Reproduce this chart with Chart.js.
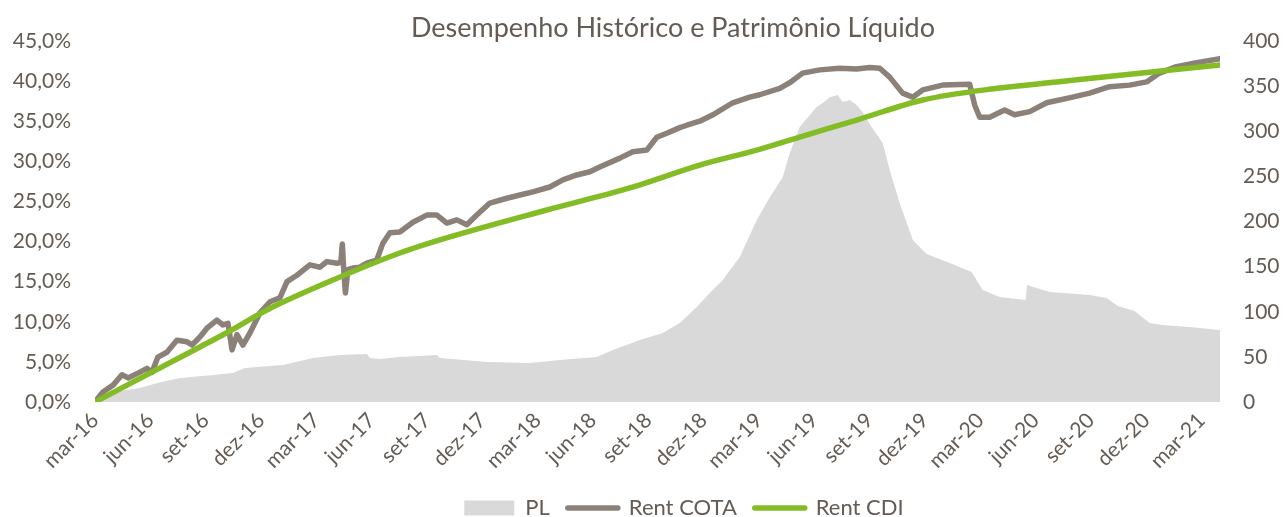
<!DOCTYPE html>
<html>
<head>
<meta charset="utf-8">
<script src="https://cdn.jsdelivr.net/npm/chart.js@4.4.1/dist/chart.umd.min.js"></script>
<style>
  body { margin: 0; background: #fff; }
</style>
</head>
<body>
<canvas id="chart" width="1284" height="517"></canvas>
<script>
// months counted from mar-16 (0) to apr-21 (61)
const tickLabels = ['mar-16', 'jun-16', 'set-16', 'dez-16', 'mar-17', 'jun-17', 'set-17', 'dez-17',
  'mar-18', 'jun-18', 'set-18', 'dez-18', 'mar-19', 'jun-19', 'set-19', 'dez-19',
  'mar-20', 'jun-20', 'set-20', 'dez-20', 'mar-21'];

// Rent COTA (%)
const cotaMonths = [0, 0.43, 0.98, 1.46, 1.79, 2.33, 2.82, 3.09, 3.41, 3.90, 4.44, 4.99, 5.26, 5.69,
  6.07, 6.61, 6.94, 7.21, 7.43, 7.70, 8.02, 8.40, 8.94, 9.49, 10.03, 10.41, 10.95, 11.65, 12.20,
  12.57, 13.12, 13.33, 13.41, 13.50, 13.58, 13.71, 13.98, 14.36, 14.74, 15.28, 15.61, 15.99, 16.53,
  17.24, 17.99, 18.54, 19.08, 19.62, 20.16, 20.70, 21.41, 22.33, 23.04, 23.74, 24.66, 25.37, 26.12,
  26.83, 27.37, 28.46, 29.16, 29.92, 30.46, 31.00, 31.71, 32.09, 32.79, 33.50, 34.58, 35.50, 36.04,
  37.13, 37.67, 38.37, 39.30, 40.38, 41.30, 42.01, 42.55, 43.09, 43.79, 44.34, 44.88, 45.96, 47.43,
  47.70, 47.97, 48.51, 49.32, 49.86, 50.68, 51.60, 53.01, 53.93, 55.01, 56.10, 57.02, 57.72, 58.64,
  59.73, 61.00];
const cotaValues = [0, 1.25, 2.1, 3.4, 3.0, 3.6, 4.2, 3.7, 5.6, 6.2, 7.7, 7.5, 7.1, 8.1,
  9.2, 10.2, 9.6, 9.8, 6.5, 8.4, 7.1, 8.6, 11.1, 12.5, 13.0, 15.0, 15.8, 17.1, 16.8,
  17.5, 17.3, 17.4, 19.7, 16.0, 13.6, 16.5, 16.7, 16.8, 17.3, 17.7, 19.8, 21.1, 21.2,
  22.4, 23.3, 23.3, 22.3, 22.7, 22.1, 23.3, 24.8, 25.4, 25.8, 26.2, 26.8, 27.7, 28.3,
  28.7, 29.3, 30.4, 31.2, 31.4, 33.0, 33.5, 34.2, 34.5, 35.0, 35.8, 37.3, 38.0, 38.3,
  39.1, 39.8, 41.0, 41.4, 41.6, 41.5, 41.7, 41.6, 40.5, 38.5, 38.0, 38.9, 39.5, 39.6,
  37.0, 35.5, 35.5, 36.4, 35.8, 36.2, 37.3, 38.0, 38.5, 39.3, 39.5, 39.9, 41.0, 41.8,
  42.3, 42.8];

// Rent CDI (%)
const cdiMonths = [0, 5.69, 7.32, 9.32, 12.90, 16.53, 19.24, 24.50, 29.00, 32.79, 35.88, 38.21,
  41.30, 44.88, 49.05, 52.14, 55.72, 61.00];
const cdiValues = [0, 6.86, 8.85, 11.47, 15.2, 18.57, 20.57, 23.93, 26.68, 29.54, 31.41, 33.03,
  35.15, 37.65, 39.14, 39.89, 40.76, 42.0];

// PL (right axis)
const plMonths = [0, 0.98, 2.44, 3.52, 4.61, 6.40, 7.48, 8.13, 10.19, 11.82, 13.28, 14.74, 14.91,
  15.45, 16.53, 18.54, 18.70, 21.25, 23.58, 25.20, 27.21, 28.08, 29.54, 30.79, 31.71, 32.63, 33.33,
  34.04, 34.96, 35.88, 36.59, 37.29, 37.67, 38.21, 39.13, 39.46, 39.84, 40.27, 40.54, 40.92, 41.30,
  41.63, 42.11, 42.71, 43.09, 43.63, 44.34, 45.09, 46.34, 47.53, 48.13, 49.05, 50.46, 50.54, 51.76,
  53.93, 54.85, 55.45, 56.37, 57.18, 57.89, 59.35, 61.00];
const plValues = [4.4, 11, 15.5, 22, 26.6, 30, 32, 37.7, 41, 48.8, 52, 53.2, 48.8,
  47.6, 49.9, 52, 48.8, 44.3, 43.2, 46.5, 49.9, 57.6, 68.7, 76.5, 87.5, 105.3, 120.8,
  135.2, 160.7, 201.7, 227, 249, 275.9, 304.7, 326.9, 331.3, 337.8, 340.2, 332.4, 334.6, 329,
  321, 304.7, 287, 257, 220.5, 179.5, 164, 154, 144, 124.1, 116.3, 113, 129.6, 121.9,
  118.6, 115.2, 106.4, 100.8, 87.5, 85.3, 83.1, 79.8];

const textColor = '#645b54';
const plColor = '#d9d9d9';
const cotaColor = '#8b8178';
const cdiColor = '#84bc26';

function points(xs, ys) {
  return xs.map((x, i) => ({ x: x, y: ys[i] }));
}

// title and legend sit a bit right of the canvas centre in the original
const shiftBlocks = {
  id: 'shiftBlocks',
  afterLayout(chart) {
    chart.titleBlock.left += 31;
    chart.titleBlock.right += 31;
    chart.legend.left += 42;
    chart.legend.right += 42;
  }
};

Chart.defaults.font.family = 'Lato, sans-serif';
Chart.defaults.color = textColor;

const chart = new Chart(document.getElementById('chart'), {
  type: 'line',
  data: {
    datasets: [
      {
        label: 'PL',
        data: points(plMonths, plValues),
        yAxisID: 'y1',
        fill: 'origin',
        backgroundColor: plColor,
        borderWidth: 0,
        pointRadius: 0,
        order: 3
      },
      {
        label: 'Rent COTA',
        data: points(cotaMonths, cotaValues),
        yAxisID: 'y',
        borderColor: cotaColor,
        borderWidth: 5.5,
        borderJoinStyle: 'round',
        borderCapStyle: 'round',
        pointRadius: 0,
        fill: false,
        order: 2
      },
      {
        label: 'Rent CDI',
        data: points(cdiMonths, cdiValues),
        yAxisID: 'y',
        borderColor: cdiColor,
        borderWidth: 5.5,
        borderCapStyle: 'round',
        cubicInterpolationMode: 'monotone',
        pointRadius: 0,
        fill: false,
        order: 1
      }
    ]
  },
  plugins: [shiftBlocks],
  options: {
    responsive: false,
    animation: false,
    layout: { padding: { top: 0, left: 0, right: 0, bottom: -12 } },
    plugins: {
      title: {
        display: true,
        text: 'Desempenho Histórico e Patrimônio Líquido',
        color: textColor,
        font: { size: 27, weight: 'normal' },
        padding: { top: 12, bottom: -3.4 }
      },
      legend: {
        position: 'bottom',
        labels: {
          usePointStyle: true,
          pointStyleWidth: 50,
          boxHeight: 15,
          padding: 18,
          color: textColor,
          font: { size: 22 },
          sort: (a, b) => a.datasetIndex - b.datasetIndex,
          generateLabels(chart) {
            const items = Chart.defaults.plugins.legend.labels.generateLabels(chart);
            items.forEach(it => {
              const ds = chart.data.datasets[it.datasetIndex];
              if (ds.fill === 'origin') {
                it.pointStyle = 'rect';
                it.fillStyle = plColor;
                it.strokeStyle = plColor;
                it.lineWidth = 0;
              } else {
                it.pointStyle = 'line';
                it.strokeStyle = ds.borderColor;
                it.lineWidth = 5.5;
                it.lineCap = 'round';
              }
            });
            return items;
          }
        }
      },
      tooltip: { enabled: false }
    },
    scales: {
      x: {
        type: 'linear',
        min: 0,
        max: 61,
        grid: { display: false, drawTicks: false },
        border: { display: false },
        ticks: {
          stepSize: 3,
          includeBounds: false,
          autoSkip: false,
          minRotation: 45,
          maxRotation: 45,
          padding: 6,
          color: textColor,
          font: { size: 21 },
          callback: (v) => tickLabels[v / 3]
        },
        afterFit: (s) => { s.height = 77; }
      },
      y: {
        position: 'left',
        min: 0,
        max: 45,
        grid: { display: false, drawTicks: false },
        border: { display: false },
        ticks: {
          stepSize: 5,
          padding: 24,
          color: textColor,
          font: { size: 21 },
          callback: (v) => v.toFixed(1).replace('.', ',') + '%'
        },
        afterFit: (s) => { s.width = 95; }
      },
      y1: {
        position: 'right',
        min: 0,
        max: 400,
        grid: { display: false, drawTicks: false },
        border: { display: false },
        ticks: {
          stepSize: 50,
          padding: 23,
          color: textColor,
          font: { size: 21 }
        },
        afterFit: (s) => { s.width = 64; }
      }
    }
  }
});
</script>
</body>
</html>
